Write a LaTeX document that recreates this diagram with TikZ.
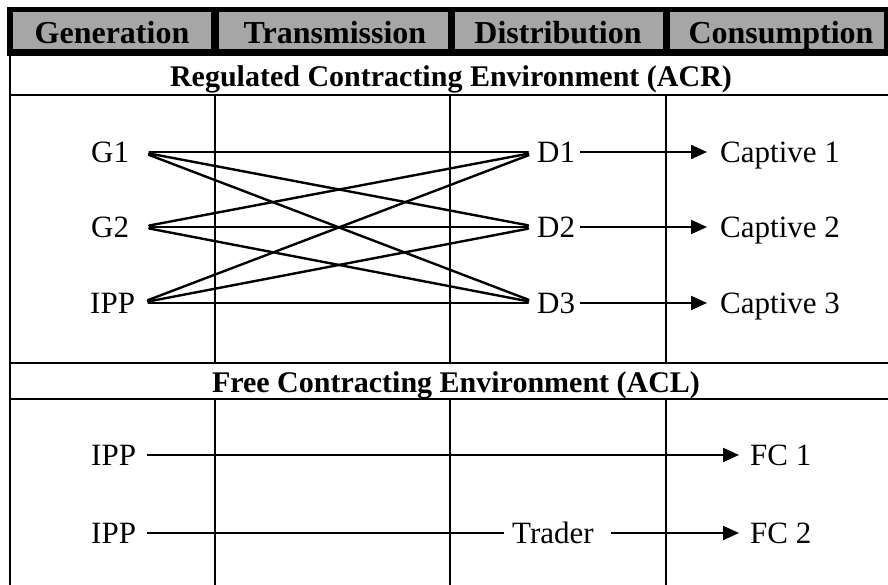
\documentclass[tikz,border=0pt]{standalone}
\usepackage{fontspec}
\setmainfont{Liberation Serif}
\usetikzlibrary{arrows.meta}
\definecolor{cellgray}{RGB}{166,166,166}

\begin{document}
\begin{tikzpicture}[x=1pt,y=-1pt,
  lbl/.style={inner sep=0pt, anchor=west, font=\fontsize{31}{31}\selectfont,
              text height=21pt, text depth=0pt},
  head/.style={font=\bfseries\fontsize{32}{32}\selectfont, inner sep=0pt, anchor=base},
  title/.style={font=\bfseries\fontsize{30}{30}\selectfont, inner sep=0pt, anchor=base},
  link/.style={line width=2.4pt, line cap=round},
  flow/.style={line width=2.1pt, -{Triangle[length=16pt,width=14pt]}},
  rule/.style={line width=2pt},
  col/.style={line width=1.6pt},
]
\useasboundingbox (0,0) rectangle (888,585);

% header band: black frame with four grey cells
\fill[black] (7,7) rectangle (888,56);
\fill[cellgray] (13,12) rectangle (211,49);
\fill[cellgray] (219,12) rectangle (448,49);
\fill[cellgray] (455,12) rectangle (663,49);
\fill[cellgray] (670,12) rectangle (884,49);
\node[head] (hgen) at (112,44) {Generation};
\node[head] (htra) at (335,44) {Transmission};
\node[head] (hdis) at (558,44) {Distribution};
\node[head] (hcon) at (781,44) {Consumption};

% table rules
\draw[rule] (10,56) -- (10,585);
\draw[rule] (10,95) -- (888,95);
\draw[rule] (10,363) -- (888,363);
\draw[rule] (10,399) -- (888,399);
\foreach \x in {215,450,666} {
  \draw[col] (\x,95) -- (\x,363);
  \draw[col] (\x,399) -- (\x,585);
}

% section titles
\node[title] (acr) at (451,87) {Regulated Contracting Environment (ACR)};
\node[title] (acl) at (456,392) {Free Contracting Environment (ACL)};

% regulated environment
\node[lbl, text width=50pt] (G1) at (91,152) {G1};
\node[lbl, text width=50pt] (G2) at (91,227) {G2};
\node[lbl, text width=50pt] (IPPa) at (90,303) {IPP};
\node[lbl, text width=40pt] (D1) at (537,152) {D1};
\node[lbl, text width=40pt] (D2) at (537,227) {D2};
\node[lbl, text width=40pt] (D3) at (537,303) {D3};
\node[lbl] (C1) at (720,152) {Captive 1};
\node[lbl] (C2) at (720,227) {Captive 2};
\node[lbl] (C3) at (720,303) {Captive 3};

\foreach \g in {G1,G2,IPPa}
  \foreach \d in {D1,D2,D3}
    \draw[link, shorten <=8pt, shorten >=9pt] (\g.east) -- (\d.west);

\draw[flow, shorten <=3pt, shorten >=13pt] (D1.east) -- (C1.west);
\draw[flow, shorten <=3pt, shorten >=13pt] (D2.east) -- (C2.west);
\draw[flow, shorten <=3pt, shorten >=13pt] (D3.east) -- (C3.west);

% free environment
\node[lbl, text width=50pt] (IPPb) at (91,455) {IPP};
\node[lbl, text width=50pt] (IPPc) at (91,533) {IPP};
\node[lbl, text width=90pt] (TR) at (512,533) {Trader};
\node[lbl] (FC1) at (750,455) {FC 1};
\node[lbl] (FC2) at (750,533) {FC 2};

\draw[flow, shorten <=6pt, shorten >=11pt] (IPPb.east) -- (FC1.west);
\draw[line width=2.1pt, shorten <=6pt, shorten >=8pt] (IPPc.east) -- (TR.west);
\draw[flow, shorten <=9pt, shorten >=11pt] (TR.east) -- (FC2.west);
\end{tikzpicture}
\end{document}
